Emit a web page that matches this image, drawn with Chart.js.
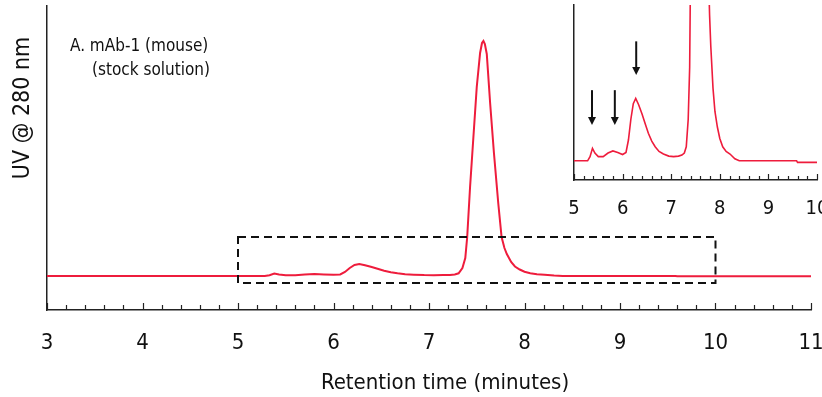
<!DOCTYPE html>
<html>
<head>
<meta charset="utf-8">
<script src="https://cdn.jsdelivr.net/npm/chart.js@4.4.1/dist/chart.umd.min.js"></script>
<style>
  html, body { margin: 0; padding: 0; background: #fff; overflow: hidden; }
  #wrap { position: relative; width: 822px; height: 397px; }
  #main { position: absolute; left: 0; top: 0; }
  #inset { position: absolute; left: 540px; top: 0; }
</style>
</head>
<body>
<div id="wrap">
  <canvas id="main" width="822" height="397"></canvas>
  <canvas id="inset" width="310" height="230"></canvas>
</div>
<script>
// retention time (min) and UV absorbance (arbitrary units)
var times = [3.0, 5.28, 5.33, 5.38, 5.43, 5.50, 5.60, 5.70, 5.80, 5.90, 6.00, 6.07,
  6.12, 6.17, 6.22, 6.27, 6.33, 6.40, 6.47, 6.53, 6.60, 6.67, 6.75, 6.84, 6.95,
  7.05, 7.15, 7.22, 7.27, 7.31, 7.35, 7.38, 7.40, 7.43, 7.465, 7.50, 7.535, 7.555,
  7.57, 7.585, 7.605, 7.64, 7.68, 7.725, 7.76, 7.79, 7.815, 7.86, 7.90, 7.95, 8.00,
  8.06, 8.13, 8.21, 8.31, 8.40, 9.58, 9.60, 11.0];
var uv = [0, 0, 0.8, 2.4, 1.5, 0.8, 0.8, 1.5, 1.9, 1.6, 1.2, 1.6,
  4, 8, 11, 12, 10.8, 9, 7, 5.3, 3.8, 2.7, 1.8, 1.3, 0.9,
  0.8, 0.9, 1.1, 1.5, 2.7, 8, 18, 39, 89, 139, 189, 223, 233,
  235, 232, 222, 173, 123, 73, 39, 28, 22, 14, 9.5, 6.5, 4.3,
  2.7, 1.8, 1.3, 0.4, 0, 0, -0.3, -0.3];

var mainTicks = [3, 4, 5, 6, 7, 8, 9, 10, 11];
var insetTicks = [5, 6, 7, 8, 9, 10];
// zoomed region shown in the inset (time range, uv range)
var zoomBox = { t0: 5, t1: 10, v0: -7, v1: 39 };
// arrows in inset: time, tail value, tip value
var arrowTimes = [5.37, 5.84, 6.28];
var arrowTails = [13.6, 13.6, 23];
var arrowTips = [6.9, 6.9, 16.5];

var points = times.map(function (t, i) { return { x: t, y: uv[i] }; });

var RED = '#ee1c3c';
var FONT = "'Liberation Sans Narrow', 'DejaVu Sans Condensed', 'Arial Narrow', sans-serif";

function intLabel(v) {
  return Math.abs(v - Math.round(v)) < 1e-6 ? String(Math.round(v)) : '';
}

var decor = {
  id: 'decor',
  afterDraw: function (chart, args, o) {
    var ctx = chart.ctx, xs = chart.scales.x, ys = chart.scales.y;
    var area = chart.chartArea;
    ctx.save();
    // inward tick marks
    ctx.strokeStyle = '#222';
    ctx.lineWidth = 1.2;
    xs.ticks.forEach(function (tk) {
      var px = Math.round(xs.getPixelForValue(tk.value)) + 0.5;
      var len = intLabel(tk.value) !== '' ? o.major : o.minor;
      ctx.beginPath();
      ctx.moveTo(px, area.bottom);
      ctx.lineTo(px, area.bottom - len);
      ctx.stroke();
    });
    if (o.box) {
      ctx.setLineDash([8, 5]);
      ctx.lineWidth = 2;
      ctx.strokeStyle = '#111';
      var x0 = xs.getPixelForValue(zoomBox.t0), x1 = xs.getPixelForValue(zoomBox.t1);
      var y0 = ys.getPixelForValue(zoomBox.v1), y1 = ys.getPixelForValue(zoomBox.v0);
      ctx.strokeRect(x0, y0, x1 - x0, y1 - y0);
      ctx.setLineDash([]);
    }
    if (o.arrows) {
      ctx.strokeStyle = '#111';
      ctx.fillStyle = '#111';
      ctx.lineWidth = 2;
      arrowTimes.forEach(function (t, i) {
        var px = xs.getPixelForValue(t);
        var ya = ys.getPixelForValue(arrowTails[i]);
        var yb = ys.getPixelForValue(arrowTips[i]);
        ctx.beginPath();
        ctx.moveTo(px, ya);
        ctx.lineTo(px, yb - 6);
        ctx.stroke();
        ctx.beginPath();
        ctx.moveTo(px - 4, yb - 8);
        ctx.lineTo(px + 4, yb - 8);
        ctx.lineTo(px, yb);
        ctx.closePath();
        ctx.fill();
      });
    }
    if (o.texts) {
      ctx.fillStyle = '#111';
      ctx.textBaseline = 'middle';
      ctx.textAlign = 'left';
      ctx.font = '17px ' + FONT;
      ctx.fillText('A. mAb-1 (mouse)', 70, 47);
      ctx.fillText('(stock solution)', 92, 71);
      ctx.textAlign = 'center';
      ctx.font = '22px ' + FONT;
      ctx.fillText('Retention time (minutes)', 445, 383);
      ctx.translate(23, 108);
      ctx.rotate(-Math.PI / 2);
      ctx.font = '23px ' + FONT;
      ctx.fillText('UV @ 280 nm', 0, 0);
    }
    ctx.restore();
  }
};

function makeChart(id, cfg) {
  return new Chart(document.getElementById(id), {
    type: 'line',
    data: {
      datasets: [{
        data: points,
        borderColor: RED,
        borderWidth: cfg.lw,
        pointRadius: 0,
        tension: 0,
        fill: false
      }]
    },
    options: {
      responsive: false,
      animation: false,
      events: [],
      layout: { padding: cfg.padding },
      plugins: {
        legend: { display: false },
        tooltip: { enabled: false },
        decor: cfg.decor
      },
      scales: {
        x: {
          type: 'linear',
          min: cfg.xmin, max: cfg.xmax,
          afterFit: function (s) {
            s.height = cfg.xh;
            s.paddingLeft = 0;
            s.paddingRight = 0;
          },
          afterBuildTicks: function (s) {
            var t = [];
            for (var v = cfg.xmin; v <= cfg.xmax + 1e-6; v += 0.2) t.push({ value: v });
            s.ticks = t;
          },
          grid: { display: false },
          border: { display: true, color: '#222', width: 1.5 },
          ticks: {
            autoSkip: false, maxRotation: 0,
            padding: cfg.tpad,
            color: '#111',
            font: { family: FONT, size: cfg.fs },
            callback: intLabel
          }
        },
        y: {
          min: cfg.ymin, max: cfg.ymax,
          afterFit: function (s) { s.width = cfg.yw; },
          grid: { display: false },
          border: { display: true, color: '#222', width: 1.5 },
          ticks: { display: false }
        }
      }
    },
    plugins: [decor]
  });
}

makeChart('main', {
  lw: 2, xmin: 3, xmax: 11, ymin: -34, ymax: 270,
  xh: 87, yw: 47, tpad: 12, fs: 22,
  padding: { top: 6, right: 11, left: 0, bottom: 0 },
  decor: { major: 7, minor: 5, box: true, texts: true }
});

makeChart('inset', {
  lw: 1.6, xmin: 5, xmax: 10, ymin: -3.7, ymax: 30,
  xh: 50, yw: 34, tpad: 9, fs: 20,
  padding: { top: 5, right: 33, left: 0, bottom: 0 },
  decor: { major: 6, minor: 4, arrows: true }
});
</script>
</body>
</html>
